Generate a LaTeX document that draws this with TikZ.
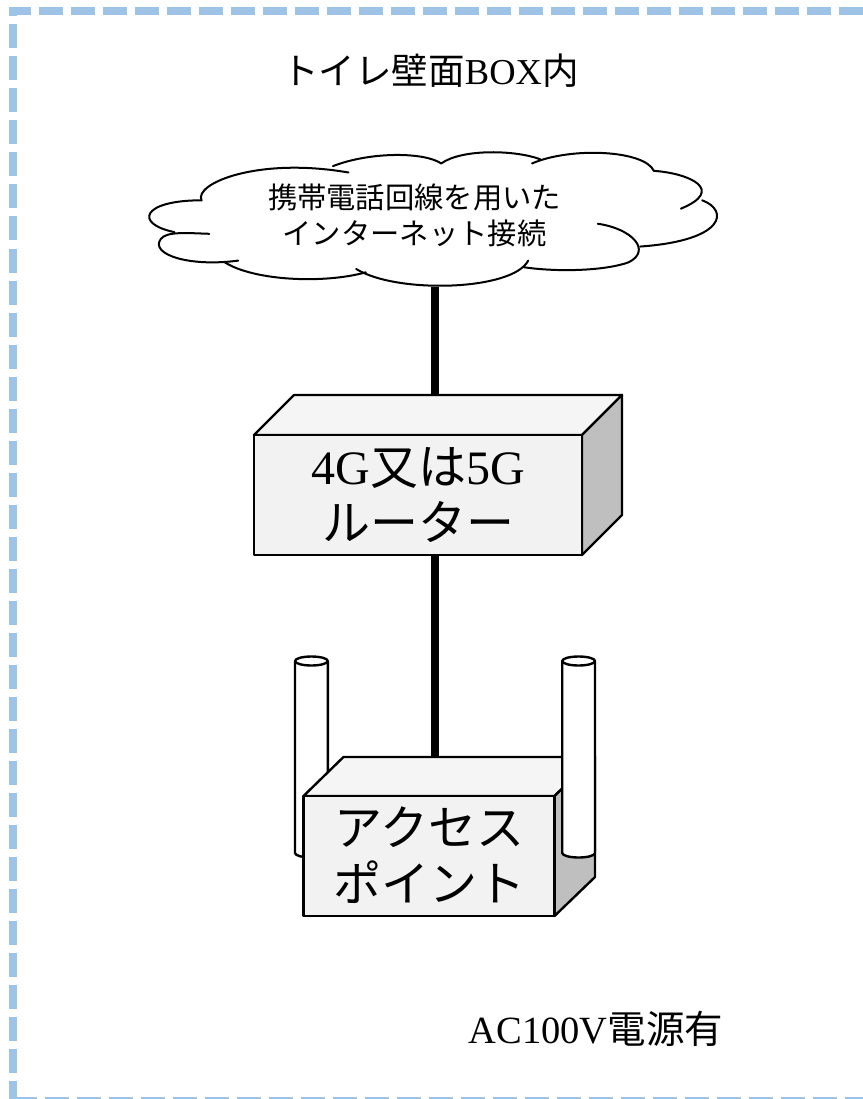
\documentclass[tikz,border=0pt]{standalone}
\usepackage{fontspec}
\setmainfont{Noto Sans CJK JP}[Scale=1]
\newfontfamily\lat{Liberation Serif}
\newcommand{\La}[1]{{\lat #1}}
\tikzset{
  x=1pt,y=-1pt,
  edgeline/.style={line width=2.4pt,draw=black,line join=round},
  dashline/.style={line width=8pt,draw=dashblue,dash pattern=on 24pt off 8pt},
  link/.style={line width=8pt,draw=black},
  front/.style={edgeline,fill=facegray,rectangle,inner sep=0pt,outer sep=0pt,align=center},
  txt/.style={inner sep=0pt,outer sep=0pt,align=center,black},
  cloudarc/.style={line width=2pt,draw=black,line cap=round},
}
\definecolor{dashblue}{HTML}{9DC3E6}
\definecolor{facegray}{HTML}{F2F2F2}
\definecolor{topgray}{HTML}{F5F5F5}
\definecolor{sidegray}{HTML}{BFBFBF}
\begin{document}
\begin{tikzpicture}
\useasboundingbox (0,0) rectangle (862,1099);
% dashed frame
\draw[dashline,dash phase=5.5pt] (12.5,11) -- (870,11);
\draw[dashline,dash phase=14.5pt] (12.5,7) -- (12.5,1104);
\draw[dashline] (12.5,1100.5) -- (870,1100.5);
% title
\node[txt,font=\fontsize{36.5}{36}\selectfont] (title) at (430.5,71) {トイレ壁面\La{BOX}内};
% cloud
\begin{scope}[shift={(130,140)},x=0.3866pt,y=-0.335pt]
\fill[white] (185,180) .. controls (165,130) and (330,60) .. (525,78)
  .. controls (620,35) and (760,35) .. (805,70)
  .. controls (860,25) and (1000,30) .. (1040,70)
  .. controls (1140,20) and (1330,30) .. (1355,92)
  .. controls (1450,100) and (1510,140) .. (1480,180)
  .. controls (1550,210) and (1540,300) .. (1320,318)
  .. controls (1330,370) and (1130,410) .. (1020,380)
  .. controls (990,450) and (690,460) .. (610,395)
  .. controls (500,430) and (320,420) .. (245,365)
  .. controls (150,380) and (50,340) .. (80,280)
  .. controls (10,250) and (30,180) .. (185,180) -- cycle;
\draw[cloudarc] (185,180) .. controls (165,130) and (330,50) .. (565,97);
\draw[cloudarc] (525,78) .. controls (620,35) and (760,35) .. (805,70);
\draw[cloudarc] (805,70) .. controls (860,25) and (1000,30) .. (1062,58);
\draw[cloudarc] (1040,70) .. controls (1140,20) and (1330,30) .. (1355,92);
\draw[cloudarc] (1355,92) .. controls (1450,100) and (1540,150) .. (1425,205);
\draw[cloudarc] (1480,180) .. controls (1550,210) and (1540,300) .. (1320,318);
\draw[cloudarc] (1210,250) .. controls (1300,265) and (1350,330) .. (1290,365)
  .. controls (1230,390) and (1110,395) .. (1020,380);
\draw[cloudarc] (1030,360) .. controls (990,450) and (690,460) .. (585,385);
\draw[cloudarc] (610,395) .. controls (500,430) and (320,420) .. (245,365);
\draw[cloudarc] (280,360) .. controls (150,380) and (50,340) .. (80,295)
  .. controls (95,272) and (150,278) .. (205,280);
\draw[cloudarc] (115,275) .. controls (10,250) and (30,180) .. (185,180);
\end{scope}
\coordinate (cloudbottom) at (435,287);
\node[txt,font=\fontsize{29.3}{36}\selectfont] (cloudtext) at (414.5,215) {携帯電話回線を用いた\\インターネット接続};
% router
\coordinate (routertop) at (435,395);
\draw[link] (cloudbottom) -- (routertop);
\path[edgeline,fill=topgray] (254,435) -- (294,395) -- (622,395) -- (582,435) -- cycle;
\path[edgeline,fill=sidegray] (582,435) -- (622,395) -- (622,515) -- (582,555) -- cycle;
\node[front,minimum width=328pt,minimum height=120pt] (router) at (418,495) {};
\node[txt,font=\fontsize{48}{56}\selectfont] (routertext) at (418,495) {\La{4G}又は\La{5G}\\ルーター};
% left antenna
\path[edgeline,fill=white] (295,661) -- (295,853) arc[x radius=16.4pt,y radius=4.5pt,start angle=180,end angle=360,y=1pt] -- (327.8,661);
\draw[edgeline,fill=white] (311.4,661) ellipse[x radius=16.4pt,y radius=4.5pt];
% access point
\coordinate (aptop) at (435,757);
\draw[link] (router.south -| aptop) -- (aptop);
\path[edgeline,fill=topgray] (303.5,796) -- (343.5,757) -- (595,757) -- (554.5,796) -- cycle;
\path[edgeline,fill=sidegray] (554.5,796) -- (595,757) -- (595,877) -- (554.5,916) -- cycle;
\node[front,minimum width=251pt,minimum height=120pt] (ap) at (429,856) {};
\node[txt,font=\fontsize{48}{56}\selectfont] (aptext) at (429.5,855) {アクセス\\ポイント};
% right antenna
\path[edgeline,fill=white] (562.2,661) -- (562.2,853) arc[x radius=16.4pt,y radius=4.5pt,start angle=180,end angle=360,y=1pt] -- (595,661) -- cycle;
\draw[edgeline,fill=white] (578.6,661) ellipse[x radius=16.4pt,y radius=4.5pt];
% power note
\node[txt,font=\fontsize{38.5}{38}\selectfont] (acpower) at (596,1029) {\La{AC100V}電源有};
\end{tikzpicture}
\end{document}
